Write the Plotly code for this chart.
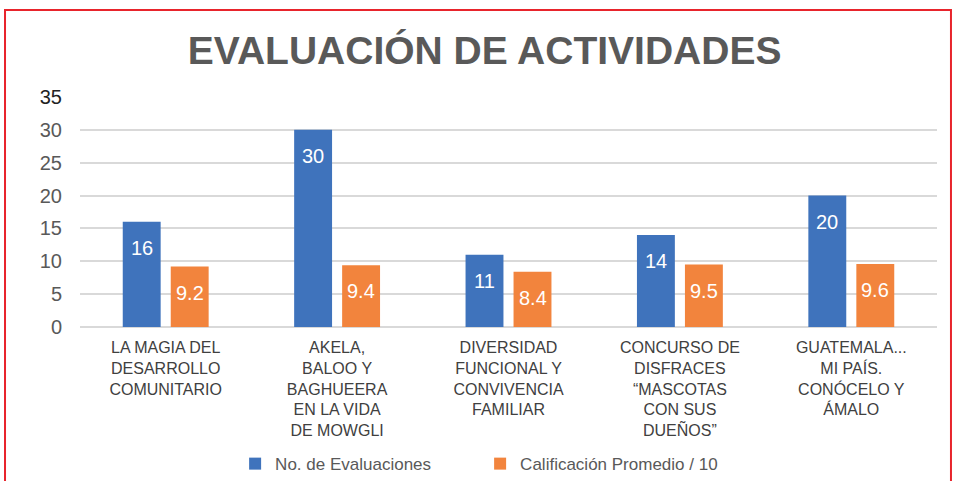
import plotly.graph_objects as go

categories = [
    "LA MAGIA DEL<br>DESARROLLO<br>COMUNITARIO",
    "AKELA,<br>BALOO Y<br>BAGHUEERA<br>EN LA VIDA<br>DE MOWGLI",
    "DIVERSIDAD<br>FUNCIONAL Y<br>CONVIVENCIA<br>FAMILIAR",
    "CONCURSO DE<br>DISFRACES<br>“MASCOTAS<br>CON SUS<br>DUEÑOS”",
    "GUATEMALA...<br>MI PAÍS.<br>CONÓCELO Y<br>ÁMALO",
]
evaluaciones = [16, 30, 11, 14, 20]
calificacion = [9.2, 9.4, 8.4, 9.5, 9.6]
series_names = ["No. de Evaluaciones", "Calificación Promedio / 10"]
y_ticks = [0, 5, 10, 15, 20, 25, 30, 35]
title_text = "EVALUACIÓN DE ACTIVIDADES"

BLUE = "#3F73BC"
ORANGE = "#F2843D"
FONT = "Liberation Sans, Arial, sans-serif"

fig = go.Figure()
fig.add_trace(go.Bar(x=categories, y=evaluaciones, name=series_names[0],
                     marker=dict(color=BLUE, line=dict(width=0))))
fig.add_trace(go.Bar(x=categories, y=calificacion, name=series_names[1],
                     marker=dict(color=ORANGE, line=dict(width=0))))

annotations = []
for series, shift in ((evaluaciones, -24), (calificacion, 24)):
    for cat, val in zip(categories, series):
        annotations.append(dict(
            x=cat, y=val, xref="x", yref="y", text=f"{val:g}",
            showarrow=False, xshift=shift, yshift=-26,
            font=dict(family=FONT, size=20, color="white"),
        ))

tick_text = [f"<span style='color:#222222'>{v}</span>" if v == max(y_ticks) else str(v)
             for v in y_ticks]

fig.update_layout(
    width=954, height=481,
    margin=dict(l=80, r=17, t=97, b=154, autoexpand=False),
    paper_bgcolor="white", plot_bgcolor="white",
    barmode="group", bargap=0.44, bargroupgap=0.21,
    font=dict(family=FONT, color="#595959"),
    title=dict(text=f"<b>{title_text}</b>", x=0.508, xanchor="center",
               y=0.895, yanchor="middle",
               font=dict(family=FONT, size=39, color="#595959")),
    xaxis=dict(showgrid=False, showline=False, ticks="", automargin=False,
               tickfont=dict(family=FONT, size=16, color="#404040"),
               ticklabelstandoff=9),
    yaxis=dict(range=[0, 35], tickvals=y_ticks, ticktext=tick_text, showgrid=True,
               gridcolor="#D9D9D9", gridwidth=1.5, zeroline=True, automargin=False,
               zerolinecolor="#D9D9D9", zerolinewidth=1.5,
               tickfont=dict(family=FONT, size=20, color="#595959"),
               ticklabelstandoff=17, showline=False, ticks=""),
    showlegend=True,
    legend=dict(orientation="h", x=0.181, xanchor="left", y=-0.596,
                yanchor="middle", entrywidth=200, entrywidthmode="pixels",
                font=dict(family=FONT, size=17, color="#595959"),
                itemsizing="constant"),
    annotations=annotations,
    shapes=[dict(type="rect", xref="paper", yref="paper",
                 x0=-0.0875, x1=1.0163, y0=-0.75, y1=1.378,
                 line=dict(color="#E8242C", width=2), fillcolor="rgba(0,0,0,0)")],
)

fig.write_html("out.html", config={"displayModeBar": False},
               post_script="document.body.style.margin='0';")
